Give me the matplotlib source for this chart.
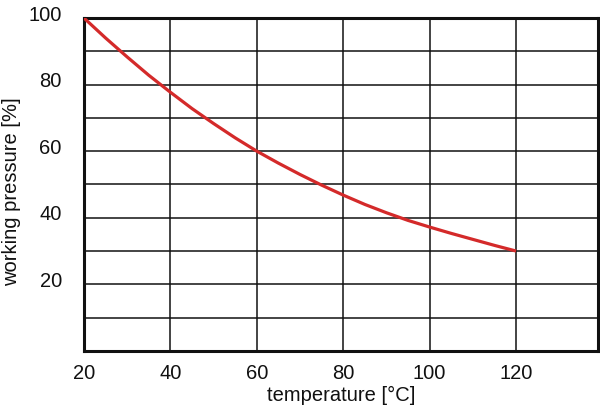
import matplotlib.pyplot as plt
import matplotlib.transforms as mtransforms
import numpy as np

# curve
temperature = [20, 25, 30, 35, 40, 45, 50, 55, 60, 65, 70, 75, 80, 85, 90, 95, 100, 105, 110, 115, 120]
pressure = [100, 94, 88.3, 82.8, 77.7, 72.8, 68.3, 64, 60, 56.4, 53, 49.8, 46.8, 44, 41.5, 39.2, 37.2, 35.3, 33.5, 31.7, 30]

x_ticks = [20, 40, 60, 80, 100, 120]
y_ticks = [20, 40, 60, 80, 100]

plt.rcParams['font.family'] = ['Liberation Sans', 'DejaVu Sans']

fig = plt.figure(figsize=(6, 4.14), dpi=100)
ax = fig.add_axes([0.14, 0.15, 0.857, 0.804])

ax.plot(temperature, pressure, color='#d42a2a', lw=2.3, solid_capstyle='butt', zorder=3)

ax.set_xlim(20, 139)
ax.set_ylim(0, 100)

# grid every 10 %, labels every 20 %
for yv in np.arange(10, 100, 10):
    ax.axhline(yv, color='#111111', lw=1.1, zorder=1)
for xv in x_ticks[1:]:
    ax.axvline(xv, color='#111111', lw=1.1, zorder=1)

ax.set_xticks(x_ticks)
ax.set_yticks(y_ticks)
ax.tick_params(length=0, labelsize=14.5, colors='#111111')
ax.tick_params(axis='x', pad=9)
ax.tick_params(axis='y', pad=16)

# y labels sit a bit above their grid lines in the original
shift = mtransforms.ScaledTranslation(0, 6 / 100, fig.dpi_scale_trans)
for lbl in ax.get_yticklabels():
    lbl.set_transform(lbl.get_transform() + shift)

for sp in ax.spines.values():
    sp.set_linewidth(2.2)
    sp.set_color('#111111')

ax.set_xlabel('temperature [°C]', fontsize=14.5, labelpad=2, color='#111111')
# y label placed in figure coords, left edge near the border
fig.text(0.004, 0.538, 'working pressure [%]', fontsize=14.5, color='#111111',
         rotation=90, ha='left', va='center')

fig.savefig('out.png', dpi=100)
